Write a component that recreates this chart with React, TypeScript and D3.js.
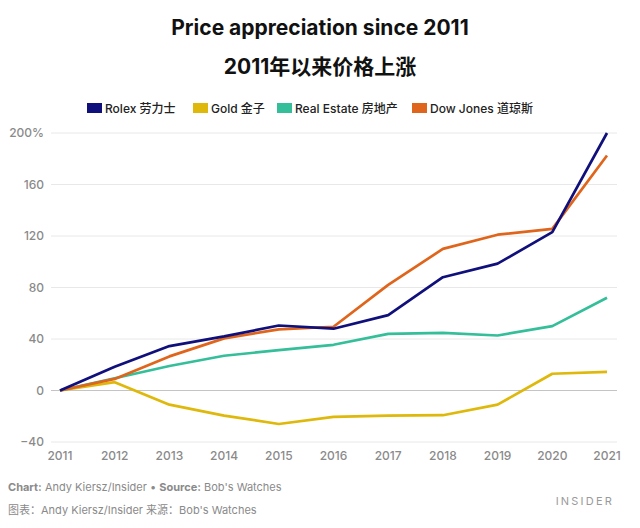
import React from "react";
import * as d3 from "d3";

const years = [2011, 2012, 2013, 2014, 2015, 2016, 2017, 2018, 2019, 2020, 2021];
const rolex = [0, 18.5, 34.5, 42, 50.5, 48, 58.5, 88, 98.5, 123, 200];
const gold = [0, 6.5, -11, -19.5, -26, -20.5, -19.5, -19.2, -11, 13, 14.5];
const realEstate = [0, 9.5, 19, 27, 31.3, 35.5, 44, 44.8, 42.7, 50, 72];
const dowJones = [0, 9, 26.5, 40.5, 47.5, 49.5, 82, 110, 121, 125.5, 182.5];
const yTicks = [-40, 0, 40, 80, 120, 160, 200];

const seriesNames = ["Rolex 劳力士", "Gold 金子", "Real Estate 房地产", "Dow Jones 道琼斯"];
const seriesColors = ["#10107c", "#dfb80c", "#34bf9a", "#e0651c"];
const seriesData = [rolex, gold, realEstate, dowJones];
const drawOrder = [1, 2, 3, 0];
const legendX = [87, 193, 277, 412];

const FONT = "Inter, 'Noto Sans', 'Noto Sans CJK SC', sans-serif";

export default function App() {
  const x = d3.scaleLinear().domain([2011, 2021]).range([60, 607]);
  const y = d3.scaleLinear().domain([-40, 200]).range([442, 133]);
  const line = (vals: number[]) =>
    d3
      .line<number>()
      .x((_, i) => x(years[i]))
      .y((v) => y(v))(vals) || "";

  return (
    <svg
      width={640}
      height={528}
      style={{ position: "absolute", left: 0, top: 0, background: "#fff" }}
      fontFamily={FONT}
    >
      <text x={320} y={35} textAnchor="middle" fontSize={21} fontWeight={700} fill="#111">
        Price appreciation since 2011
      </text>
      <text x={320} y={74} textAnchor="middle" fontSize={21} fontWeight={700} fill="#111">
        2011年以来价格上涨
      </text>

      {seriesNames.map((n, i) => (
        <g key={n}>
          <rect x={legendX[i]} y={103} width={15} height={10} fill={seriesColors[i]} />
          <text x={legendX[i] + 18} y={112.5} fontSize={12} fontWeight={500} fill="#222">
            {n}
          </text>
        </g>
      ))}

      {yTicks.map((t) => (
        <g key={t}>
          <line
            x1={51}
            x2={617}
            y1={y(t)}
            y2={y(t)}
            stroke={t === 0 ? "#c4c4c4" : "#e8e8e8"}
            strokeWidth={1}
          />
          <text
            x={44}
            y={y(t)}
            dy="0.35em"
            textAnchor="end"
            fontSize={12}
            fontWeight={500}
            fill="#8a8a8a"
          >
            {t === 200 ? "200%" : t < 0 ? "\u2212" + Math.abs(t) : t}
          </text>
        </g>
      ))}

      {years.map((yr) => (
        <text key={yr} x={x(yr)} y={460} textAnchor="middle" fontSize={12} fontWeight={500} fill="#8a8a8a">
          {yr}
        </text>
      ))}

      {drawOrder.map((i) => (
        <path
          key={i}
          d={line(seriesData[i])}
          fill="none"
          stroke={seriesColors[i]}
          strokeWidth={2.7}
          strokeLinejoin="round"
        />
      ))}

      <text x={8} y={491} fontSize={11} fill="#8a8a8a">
        <tspan fontWeight={700}>Chart:</tspan> Andy Kiersz/Insider •{" "}
        <tspan fontWeight={700}>Source:</tspan> Bob's Watches
      </text>
      <text x={8} y={514} fontSize={11} fill="#8a8a8a">
        图表：Andy Kiersz/Insider 来源：Bob's Watches
      </text>
      <text x={614} y={505} textAnchor="end" fontSize={11} fill="#9a9a9a" letterSpacing={2.2}>
        INSIDER
      </text>
    </svg>
  );
}
